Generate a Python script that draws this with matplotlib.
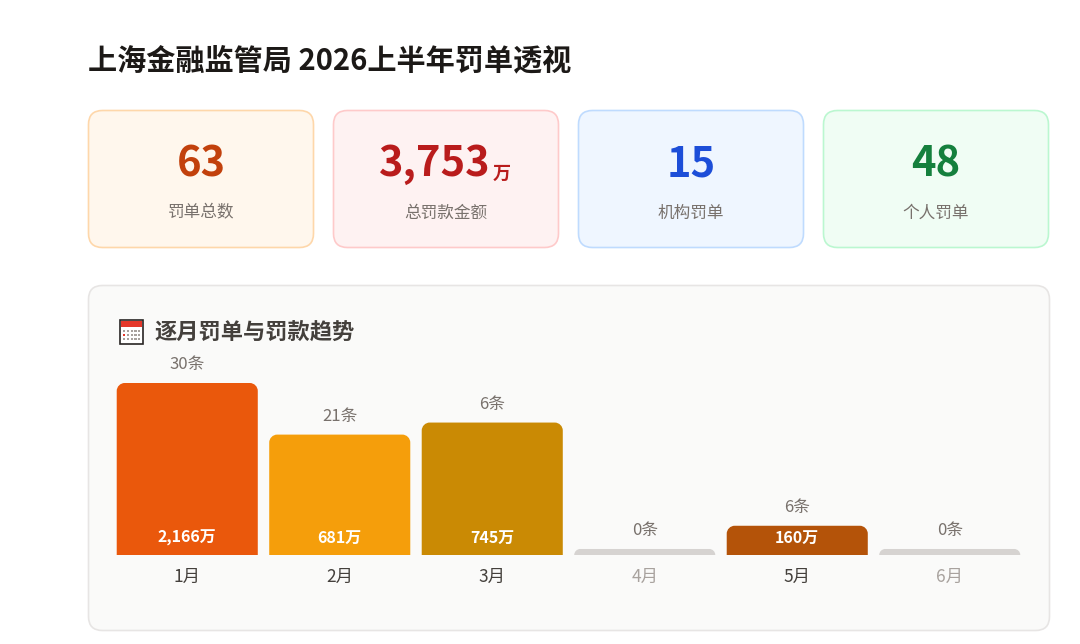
import matplotlib
matplotlib.use("Agg")
import matplotlib.pyplot as plt
from matplotlib.patches import FancyBboxPatch, Rectangle, PathPatch
from matplotlib.path import Path

plt.rcParams['font.family'] = ['Noto Sans CJK SC', 'DejaVu Sans']

# ---------------- data ----------------
title = "上海金融监管局 2026上半年罚单透视"
kpi_values = ["63", "3,753", "15", "48"]
kpi_units = ["", "万", "", ""]
kpi_labels = ["罚单总数", "总罚款金额", "机构罚单", "个人罚单"]
kpi_colors = ["#c2410c", "#b91c1c", "#1d4ed8", "#15803d"]
kpi_bg = ["#fff7ed", "#fef2f2", "#eff6ff", "#f0fdf4"]
kpi_border = ["#fed7aa", "#fecaca", "#bfdbfe", "#bbf7d0"]

panel_title = "逐月罚单与罚款趋势"
months = ["1月", "2月", "3月", "4月", "5月", "6月"]
counts = [30, 21, 6, 0, 6, 0]
amounts = [2166, 681, 745, 0, 160, 0]          # 万元
bar_height_pct = [100, 70, 77, 3.5, 17, 3.5]     # displayed bar height, % of tallest
bar_colors = ["#ea580c", "#f59e0b", "#ca8a04", "#d6d3d1", "#b45309", "#d6d3d1"]

W, H = 1080, 644
fig = plt.figure(figsize=(W / 100, H / 100), dpi=100)
fig.patch.set_facecolor("white")

# overlay axes in pixel coordinates (y from top)
ov = fig.add_axes([0, 0, 1, 1], zorder=0)
ov.set_xlim(0, W)
ov.set_ylim(H, 0)
ov.axis("off")

# title
ov.text(88, 60, title, fontsize=21, fontweight="bold", color="#1c1917",
        ha="left", va="center")

# KPI cards
card_x = [88, 333, 578, 823]
card_w, card_y, card_h = 226, 110, 138
for i in range(4):
    x0 = card_x[i]
    p = FancyBboxPatch((x0 + 0.5, card_y + 0.5), card_w - 1, card_h - 1,
                       boxstyle="round,pad=0,rounding_size=14",
                       facecolor=kpi_bg[i], edgecolor=kpi_border[i], linewidth=1.2)
    ov.add_patch(p)
    cx = x0 + card_w / 2
    if kpi_units[i]:
        ov.text(cx + 45, 164, kpi_values[i], fontsize=30, fontweight="bold",
                color=kpi_colors[i], ha="right", va="center")
        ov.text(cx + 47, 173, kpi_units[i], fontsize=13, fontweight="bold",
                color=kpi_colors[i], ha="left", va="center")
    else:
        ov.text(cx, 164, kpi_values[i], fontsize=30, fontweight="bold",
                color=kpi_colors[i], ha="center", va="center")
    ov.text(cx, 213, kpi_labels[i], fontsize=12, color="#78716c",
            ha="center", va="center")

# chart panel
panel = FancyBboxPatch((88.5, 285.5), 961, 345,
                       boxstyle="round,pad=0,rounding_size=14",
                       facecolor="#fafaf9", edgecolor="#e7e5e4", linewidth=1.2)
ov.add_patch(panel)

# calendar icon
ov.add_patch(Rectangle((120, 320), 23, 24, facecolor="white", edgecolor="#292524", linewidth=1.2, zorder=3))
ov.add_patch(Rectangle((120.6, 320.6), 21.8, 6, facecolor="#e5382b", edgecolor="none", zorder=4))
for r in range(3):
    for c in range(5):
        ov.add_patch(Rectangle((123 + c * 3.8, 330 + r * 4), 2.2, 2.2,
                               facecolor="#a8a29e", edgecolor="none", zorder=4))
ov.add_patch(Rectangle((123, 334), 2.2, 2.2, facecolor="#e5382b", edgecolor="none", zorder=5))
ov.text(154, 332, panel_title, fontsize=16, fontweight="bold", color="#44403c",
        ha="left", va="center")

# bar axes
ax_left, ax_right = 111, 1026
ax_top, ax_bottom = 383, 555
ax = fig.add_axes([ax_left / W, (H - ax_bottom) / H, (ax_right - ax_left) / W,
                   (ax_bottom - ax_top) / H], zorder=2)
ax.set_xlim(-0.5, 5.5)
ax.set_ylim(0, 100)
ax.patch.set_alpha(0)
ax.axis("off")

xs = list(range(len(months)))
bars = ax.bar(xs, bar_height_pct, width=0.925, color=bar_colors)

px_x = (ax_right - ax_left) / 6.0   # pixels per data unit x
px_y = (ax_bottom - ax_top) / 100.0  # pixels per data unit y
k = 0.5523
for b in bars:
    x0, w, h = b.get_x(), b.get_width(), b.get_height()
    x1 = x0 + w
    r_px = min(8, h * px_y)
    rx, ry = r_px / px_x, r_px / px_y
    verts = [(x0, 0), (x0, h - ry),
             (x0, h - ry + k * ry), (x0 + rx - k * rx, h), (x0 + rx, h),
             (x1 - rx, h),
             (x1 - rx + k * rx, h), (x1, h - ry + k * ry), (x1, h - ry),
             (x1, 0), (x0, 0)]
    codes = [Path.MOVETO, Path.LINETO,
             Path.CURVE4, Path.CURVE4, Path.CURVE4,
             Path.LINETO,
             Path.CURVE4, Path.CURVE4, Path.CURVE4,
             Path.LINETO, Path.CLOSEPOLY]
    ax.add_patch(PathPatch(Path(verts, codes), facecolor=b.get_facecolor(),
                           edgecolor="none"))
    b.set_visible(False)

for i, (x, hgt) in enumerate(zip(xs, bar_height_pct)):
    ax.annotate(f"{counts[i]}条", (x, hgt), xytext=(0, 18), textcoords="offset pixels",
                ha="center", va="center", fontsize=12, color="#78716c",
                annotation_clip=False)
    if amounts[i] > 0:
        ax.annotate(f"{amounts[i]:,}万", (x, 0), xytext=(0, 17), textcoords="offset pixels",
                    ha="center", va="center", fontsize=11.5, fontweight="bold",
                    color="white", annotation_clip=False)
    ax.annotate(months[i], (x, 0), xytext=(0, -22), textcoords="offset pixels",
                ha="center", va="center", fontsize=12.5,
                color="#44403c" if counts[i] > 0 else "#a8a29e",
                annotation_clip=False)

fig.savefig("out.png", dpi=100, facecolor="white")
